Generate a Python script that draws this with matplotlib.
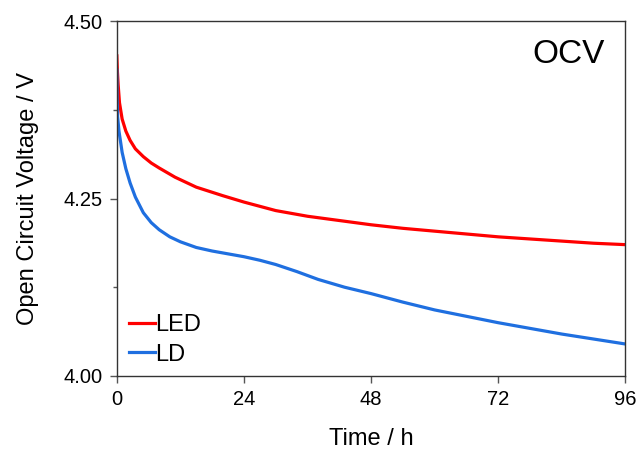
import matplotlib
matplotlib.use('Agg')
import matplotlib.pyplot as plt
from matplotlib.ticker import MultipleLocator

plt.rcParams['font.family'] = ['Liberation Sans', 'DejaVu Sans']

# Data
led_t = [0, 0.1, 0.25, 0.5, 1, 1.7, 2.5, 3.5, 5, 6.5, 8, 11, 15, 20, 24,
         30, 36, 42, 48, 54, 60, 66, 72, 78, 84, 90, 96]
led_v = [4.451, 4.43, 4.41, 4.385, 4.362, 4.345, 4.332, 4.320, 4.309,
         4.300, 4.293, 4.280, 4.266, 4.254, 4.245, 4.233, 4.225, 4.219,
         4.213, 4.208, 4.204, 4.200, 4.196, 4.193, 4.190, 4.187, 4.185]

ld_t = [0, 0.05, 0.15, 0.4, 1, 1.7, 2.5, 3.5, 5, 6.5, 8, 10, 12, 15, 18,
        21, 24, 27, 30, 34, 38, 43, 48, 54, 60, 66, 72, 78, 84, 90, 96]
ld_v = [4.431, 4.39, 4.365, 4.345, 4.315, 4.292, 4.272, 4.252, 4.230,
        4.216, 4.206, 4.196, 4.189, 4.181, 4.176, 4.172, 4.168, 4.163,
        4.157, 4.147, 4.136, 4.125, 4.116, 4.104, 4.093, 4.084, 4.075,
        4.067, 4.059, 4.052, 4.045]

x_ticks = [0, 24, 48, 72, 96]
y_ticks = [4.00, 4.25, 4.50]

fig = plt.figure(figsize=(6.42, 4.59), dpi=100)
ax = fig.add_axes([0.182, 0.181, 0.792, 0.773])

ax.plot(led_t, led_v, color='#ff0000', lw=2.3, label='LED')
ax.plot(ld_t, ld_v, color='#1f6fe0', lw=2.3, label='LD')

ax.set_xlim(0, 96)
ax.set_ylim(4.0, 4.5)
ax.set_xticks(x_ticks)
ax.set_xticklabels([str(v) for v in x_ticks])
ax.set_yticks(y_ticks)
ax.set_yticklabels(['%.2f' % v for v in y_ticks])
ax.yaxis.set_minor_locator(MultipleLocator(0.125))

ax.tick_params(axis='both', which='major', direction='out', length=5,
               width=1, color='#555555', labelsize=14.5, pad=5)
ax.tick_params(axis='y', which='minor', direction='out', length=3,
               width=1, color='#555555')
for s in ax.spines.values():
    s.set_color('#333333')
    s.set_linewidth(1.0)

ax.set_xlabel('Time / h', fontsize=17, labelpad=14)
ax.set_ylabel('Open Circuit Voltage / V', fontsize=17, labelpad=18)

ax.text(0.96, 0.95, 'OCV', transform=ax.transAxes, fontsize=24,
        ha='right', va='top')

ax.legend(loc='lower left', bbox_to_anchor=(-0.013, -0.024), frameon=False,
          fontsize=17, handlelength=1.1, handletextpad=0.0,
          labelspacing=0.3, borderaxespad=0.4)

fig.savefig('out.png', dpi=100)
